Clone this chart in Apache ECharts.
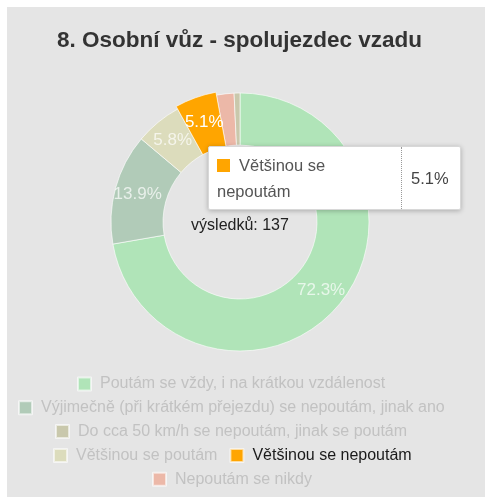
<!DOCTYPE html>
<html>
<head>
<meta charset="utf-8">
<script src="https://cdn.jsdelivr.net/npm/echarts@6/dist/echarts.min.js"></script>
<style>
  body { margin: 0; background: #fff; }
  #main { position: absolute; left: 7px; top: 7px; width: 478px; height: 490px; background: #e5e5e5; }
</style>
</head>
<body>
<div id="main"></div>
<script>
const TITLE = '8. Osobní vůz - spolujezdec vzadu';
const CATEGORIES = [
  'Poutám se vždy, i na krátkou vzdálenost',
  'Výjimečně (při krátkém přejezdu) se nepoutám, jinak ano',
  'Většinou se poutám',
  'Většinou se nepoutám',
  'Nepoutám se nikdy',
  'Do cca 50 km/h se nepoutám, jinak se poutám'
];
const COUNTS = [99, 19, 8, 7, 3, 1];
const COLORS = ['#b0e4b8', '#b1cbb8', '#dcdcbc', '#ffa500', '#ecb8a8', '#c9c8ac'];
const SHOW_LABEL = [true, true, true, true, false, false];
const ACTIVE = 3;
// legend rows, by category index
const LEGEND_ROWS = [[0], [1], [5], [2, 3], [4]];

const FONT = '"Liberation Sans", Arial, sans-serif';
const total = COUNTS.reduce((a, b) => a + b, 0);

var chartDom = document.getElementById('main');
var myChart = echarts.init(chartDom, null, { renderer: 'canvas' });

// measure legend rows so each row is centred like in the original
const cv = document.createElement('canvas').getContext('2d');
cv.font = '16px ' + FONT;
const ITEM_GAP = 12;
function rowWidth(row) {
  let w = 0;
  row.forEach((i, k) => {
    w += 13 + 5 + 4 + cv.measureText(CATEGORIES[i]).width;
    if (k > 0) w += ITEM_GAP;
  });
  return w;
}

const legends = LEGEND_ROWS.map((row, r) => ({
  left: Math.round(219 - rowWidth(row) / 2),
  top: 364 + r * 23.8,
  orient: 'horizontal',
  icon: 'rect',
  itemWidth: 13,
  itemHeight: 13,
  itemGap: ITEM_GAP,
  selectedMode: false,
  textStyle: { fontSize: 16, fontFamily: FONT, padding: [0, 0, 0, 4] },
  data: row.map(i => ({
    name: CATEGORIES[i],
    textStyle: { color: i === ACTIVE ? '#1a1a1a' : '#c2c2c2' }
  }))
}));

const data = COUNTS.map((v, i) => ({
  name: CATEGORIES[i],
  value: v,
  itemStyle: { color: COLORS[i] },
  label: {
    show: SHOW_LABEL[i],
    color: i === ACTIVE ? '#ffffff' : 'rgba(255,255,255,0.7)'
  },
  emphasis: { itemStyle: { color: COLORS[i] } }
}));

let option = {
  animation: false,
  title: {
    text: TITLE,
    left: 45,
    top: 17,
    textStyle: { color: '#333', fontSize: 22.5, fontWeight: 'bold', fontFamily: FONT }
  },
  tooltip: {
    trigger: 'item',
    triggerOn: 'none',
    alwaysShowContent: true,
    transitionDuration: 0,
    position: [201, 139],
    padding: 0,
    backgroundColor: '#fff',
    borderColor: '#d8d8d8',
    borderWidth: 1,
    extraCssText: 'box-shadow:0 1px 5px rgba(0,0,0,0.25);border-radius:2px;',
    formatter: function (p) {
      return '<div style="display:flex;font-family:' + FONT.replace(/"/g, "'") + ';font-size:16.5px;line-height:26px;color:#555;">' +
        '<div style="width:176px;padding:5px 8px;white-space:normal;">' +
        '<span style="display:inline-block;width:13px;height:13px;background:' + p.color + ';margin-right:9px;vertical-align:-1px;"></span>' +
        p.name + '</div>' +
        '<div style="border-left:1px dotted #999;padding:0 11px 0 9px;display:flex;align-items:center;color:#444;">' +
        p.percent + '%</div></div>';
    }
  },
  legend: legends,
  graphic: [{
    type: 'text',
    x: 233,
    y: 219,
    style: {
      text: 'výsledků: ' + total,
      font: '16px ' + FONT,
      fill: '#222',
      textAlign: 'center',
      textVerticalAlign: 'middle'
    }
  }],
  series: [{
    type: 'pie',
    center: [233, 215],
    radius: [77, 129],
    startAngle: 90,
    clockwise: true,
    percentPrecision: 1,
    avoidLabelOverlap: false,
    itemStyle: { borderColor: 'rgba(255,255,255,0.6)', borderWidth: 1 },
    label: {
      position: 'inside',
      formatter: '{d}%',
      fontSize: 17,
      fontFamily: FONT
    },
    labelLine: { show: false },
    emphasis: {
      focus: 'none',
      scale: true,
      scaleSize: 3,
      label: { show: true }
    },
    data: data
  }]
};
option && myChart.setOption(option);
myChart.dispatchAction({ type: 'highlight', seriesIndex: 0, dataIndex: ACTIVE });
myChart.dispatchAction({ type: 'showTip', seriesIndex: 0, dataIndex: ACTIVE });
</script>
</body>
</html>
